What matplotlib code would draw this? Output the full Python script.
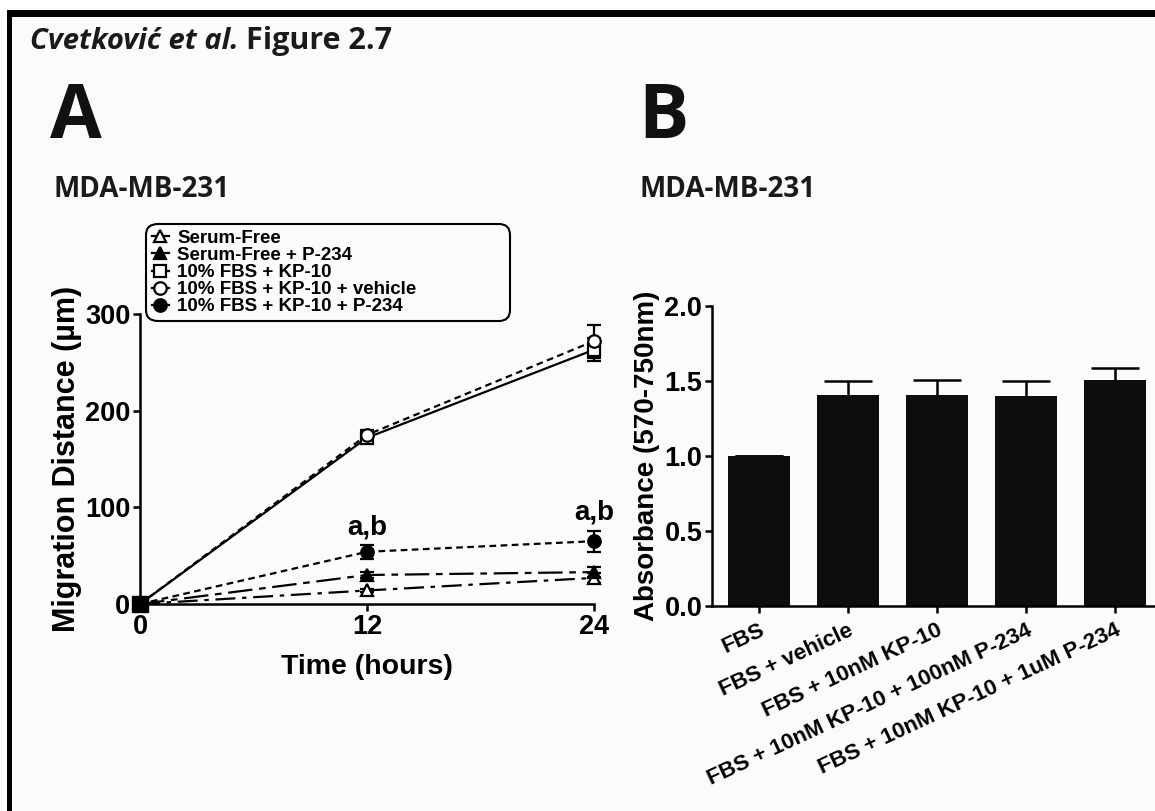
import matplotlib.pyplot as plt
from matplotlib.patches import Rectangle
from matplotlib.lines import Line2D
import numpy as np

# data
hours = [0, 12, 24]
series = ['Serum-Free', 'Serum-Free + P-234', '10% FBS + KP-10',
          '10% FBS + KP-10 + vehicle', '10% FBS + KP-10 + P-234']
sf = [0, 14, 27]
sf_err = [0, 2, 5]
sf_p234 = [0, 30, 33]
sf_p234_err = [0, 3, 5]
fbs_kp10 = [0, 172, 263]
fbs_kp10_err = [0, 5, 12]
fbs_kp10_veh = [0, 175, 272]
fbs_kp10_veh_err = [0, 5, 17]
fbs_kp10_p234 = [0, 54, 65]
fbs_kp10_p234_err = [0, 7, 11]

groups = ['FBS', 'FBS + vehicle', 'FBS + 10nM KP-10',
          'FBS + 10nM KP-10 + 100nM P-234', 'FBS + 10nM KP-10 + 1uM P-234']
absorb = [1.0, 1.41, 1.41, 1.40, 1.51]
absorb_err = [0.0, 0.09, 0.10, 0.10, 0.08]

plt.rcParams.update({'font.family': 'Liberation Sans', 'font.weight': 'bold'})

bg = '#fcfbf9'
fig = plt.figure(figsize=(11.55, 8.11), dpi=100, facecolor='white')

# page background and black border bands (top and left)
fig.patches.append(Rectangle((12 / 1155, 0), 1, 1 - 17 / 811, transform=fig.transFigure,
                             facecolor=bg, edgecolor='none', zorder=-2))
fig.patches.append(Rectangle((7 / 1155, 1 - 17 / 811), 1, 7 / 811, transform=fig.transFigure,
                             facecolor='black', edgecolor='none', zorder=-1))
fig.patches.append(Rectangle((7 / 1155, 0), 5 / 1155, 1 - 10 / 811, transform=fig.transFigure,
                             facecolor='black', edgecolor='none', zorder=-1))

# header texts
fig.text(30 / 1155, 1 - 49 / 811, 'Cvetković et al.', fontsize=21, family='Open Sans',
         style='italic', weight='bold', color='#1a1a1a')
fig.text(246 / 1155, 1 - 49 / 811, 'Figure 2.7', fontsize=22, family='Open Sans',
         weight='bold', color='#1a1a1a')
fig.text(50 / 1155, 1 - 138 / 811, 'A', fontsize=54, family='Open Sans', weight='bold', color='#111111')
fig.text(638 / 1155, 1 - 138 / 811, 'B', fontsize=54, family='Open Sans', weight='bold', color='#111111')
fig.text(53 / 1155, 1 - 197 / 811, 'MDA-MB-231', fontsize=20, family='Open Sans', weight='bold', color='#1a1a1a')
fig.text(640 / 1155, 1 - 197 / 811, 'MDA-MB-231', fontsize=20, family='Open Sans', weight='bold', color='#1a1a1a')


def style_axes(ax, size):
    ax.set_facecolor('none')
    for s in ['top', 'right']:
        ax.spines[s].set_visible(False)
    for s in ['left', 'bottom']:
        ax.spines[s].set_linewidth(1.8)
    ax.tick_params(width=1.8, length=5, labelsize=size, pad=2)
    for lab in ax.get_xticklabels() + ax.get_yticklabels():
        lab.set_fontweight('bold')


# panel A
ax1 = fig.add_axes([140 / 1155, 1 - 604 / 811, 454 / 1155, 290 / 811])
common = dict(color='black', lw=1.6, capsize=5, elinewidth=1.6, capthick=1.6,
              markersize=9, markeredgewidth=1.6, clip_on=False)
styles = [('^', 'white', (0, (9, 3, 2, 3))),
          ('^', 'black', (0, (11, 3, 3, 3))),
          ('s', 'white', '-'),
          ('o', 'white', (0, (3, 2))),
          ('o', 'black', (0, (3, 2)))]
values = [(sf, sf_err), (sf_p234, sf_p234_err), (fbs_kp10, fbs_kp10_err),
          (fbs_kp10_veh, fbs_kp10_veh_err), (fbs_kp10_p234, fbs_kp10_p234_err)]
handles = []
for (m, fc, ls), (y, e), name in zip(styles, values, series):
    ax1.errorbar(hours, y, yerr=e, marker=m, mfc=fc, ls=ls, **common)
    handles.append(Line2D([], [], color='black', lw=1.6, marker=m, mfc=fc, mew=1.6,
                          markersize=9, ls='-', label=name))
# square at origin drawn on top
ax1.plot([0], [0], marker='s', color='black', markersize=11, clip_on=False, zorder=5)

ax1.set_xlim(0, 24)
ax1.set_ylim(0, 300)
ax1.set_xticks([0, 12, 24])
ax1.set_yticks([0, 100, 200, 300])
ax1.set_xlabel('Time (hours)', fontsize=20.5, fontweight='bold', labelpad=10)
ax1.set_ylabel('Migration Distance (µm)', fontsize=22, fontweight='bold', labelpad=2)
style_axes(ax1, 19.5)

for x, y, e in zip(hours[1:], fbs_kp10_p234[1:], fbs_kp10_p234_err[1:]):
    ax1.text(x, y + e + 5, 'a,b', ha='center', va='bottom', fontsize=20, fontweight='bold')

leg = ax1.legend(handles=handles, loc='upper left',
                 bbox_to_anchor=(150 / 1155, 1 - 236 / 811, 356 / 1155, 0.01),
                 bbox_transform=fig.transFigure, mode='expand',
                 frameon=True, fancybox=True, handlelength=0.9, handletextpad=0.45,
                 labelspacing=0.0, borderpad=0.1, borderaxespad=0, framealpha=1,
                 prop={'weight': 'bold', 'size': 13.5})
leg.get_frame().set_edgecolor('black')
leg.get_frame().set_linewidth(1.5)
leg.get_frame().set_facecolor(bg)
leg.get_frame().set_boxstyle('round,pad=0.2,rounding_size=0.6')

# panel B
ax2 = fig.add_axes([712 / 1155, 1 - 606 / 811, 443 / 1155, 300 / 811])
x = np.arange(len(groups))
ax2.bar(x, absorb, width=0.7, color='#0d0d0d', zorder=2)
ax2.errorbar(x, absorb, yerr=absorb_err, fmt='none', ecolor='black', elinewidth=1.8,
             capsize=17, capthick=1.8, zorder=1)
ax2.set_xlim(-0.53, 4.45)
ax2.set_ylim(0, 2.0)
ax2.set_yticks([0.0, 0.5, 1.0, 1.5, 2.0])
ax2.set_yticklabels(['0.0', '0.5', '1.0', '1.5', '2.0'])
ax2.set_xticks(x)
ax2.set_xticklabels(groups)
ax2.set_ylabel('Absorbance (570-750nm)', fontsize=20, fontweight='bold', labelpad=3)
style_axes(ax2, 19.5)
for lab in ax2.get_xticklabels():
    lab.set_rotation(25)
    lab.set_ha('right')
    lab.set_rotation_mode('anchor')
    lab.set_fontsize(16)
ax2.tick_params(axis='x', pad=5)

plt.savefig('out.png', dpi=100, facecolor='white')
